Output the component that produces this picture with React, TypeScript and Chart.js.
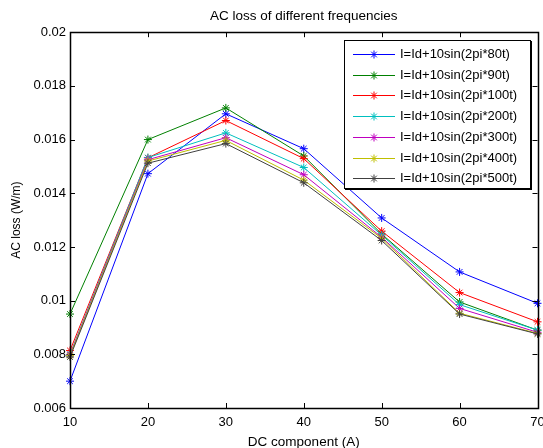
import React, { useEffect, useRef } from "react";
import { Chart, registerables } from "chart.js";

Chart.register(...registerables);

const dcCurrent = [10, 20, 30, 40, 50, 60, 70];
const seriesLabels = [
  "I=Id+10sin(2pi*80t)",
  "I=Id+10sin(2pi*90t)",
  "I=Id+10sin(2pi*100t)",
  "I=Id+10sin(2pi*200t)",
  "I=Id+10sin(2pi*300t)",
  "I=Id+10sin(2pi*400t)",
  "I=Id+10sin(2pi*500t)",
];
const loss80 = [0.0070, 0.01473, 0.01696, 0.01566, 0.01308, 0.01107, 0.0099];
const loss90 = [0.0095, 0.0160, 0.01718, 0.01539, 0.01248, 0.00995, 0.0089];
const loss100 = [0.00814, 0.01532, 0.01671, 0.01529, 0.01259, 0.0103, 0.00921];
const loss200 = [0.0080, 0.01533, 0.01625, 0.01496, 0.01244, 0.00985, 0.0089];
const loss300 = [0.00798, 0.01525, 0.01607, 0.01469, 0.01236, 0.00971, 0.00882];
const loss400 = [0.00795, 0.0152, 0.01597, 0.01449, 0.01232, 0.00953, 0.00878];
const loss500 = [0.0079, 0.01512, 0.01585, 0.01439, 0.01224, 0.0095, 0.00876];
const seriesColors = ["#0000FF", "#008000", "#FF0000", "#00BFBF", "#BF00BF", "#BFBF00", "#404040"];

const FONT = "'Liberation Sans', Arial, sans-serif";

const framePlugin = {
  id: "matlabFrame",
  afterDraw(chart: any) {
    const { ctx, chartArea } = chart;
    const { left, right, top, bottom } = chartArea;
    const xs = chart.scales.x;
    const ys = chart.scales.y;
    ctx.save();
    ctx.strokeStyle = "#000";
    ctx.lineWidth = 1;
    const tl = 5;
    ctx.beginPath();
    xs.ticks.forEach((t: any) => {
      const px = Math.round(xs.getPixelForValue(t.value)) + 0.5;
      ctx.moveTo(px, bottom);
      ctx.lineTo(px, bottom - tl);
      ctx.moveTo(px, top);
      ctx.lineTo(px, top + tl);
    });
    ys.ticks.forEach((t: any) => {
      const py = Math.round(ys.getPixelForValue(t.value)) + 0.5;
      ctx.moveTo(left, py);
      ctx.lineTo(left + tl, py);
      ctx.moveTo(right, py);
      ctx.lineTo(right - tl, py);
    });
    ctx.stroke();
    ctx.lineWidth = 1.5;
    ctx.strokeRect(Math.round(left) + 0.5, Math.round(top) + 0.5, Math.round(right - left), Math.round(bottom - top));

    // legend
    const bx = 344, by = 40, bw = 186, bh = 148;
    ctx.fillStyle = "#fff";
    ctx.fillRect(bx, by, bw, bh);
    ctx.lineWidth = 1;
    ctx.strokeStyle = "#000";
    ctx.strokeRect(bx + 0.5, by + 0.5, bw, bh);
    ctx.lineWidth = 2;
    ctx.beginPath();
    ctx.moveTo(bx + bw + 1, by + 1);
    ctx.lineTo(bx + bw + 1, by + bh + 1);
    ctx.lineTo(bx + 1, by + bh + 1);
    ctx.stroke();
    ctx.font = "13px " + FONT;
    ctx.textBaseline = "middle";
    ctx.textAlign = "left";
    chart.data.datasets.forEach((ds: any, i: number) => {
      const y = Math.round(54 + i * 20.7) + 0.5;
      ctx.strokeStyle = ds.borderColor;
      ctx.lineWidth = 1;
      ctx.beginPath();
      ctx.moveTo(353, y);
      ctx.lineTo(395, y);
      const cx = 374, r = 4;
      ctx.moveTo(cx - r, y);
      ctx.lineTo(cx + r, y);
      ctx.moveTo(cx, y - r);
      ctx.lineTo(cx, y + r);
      const d = r * 0.707;
      ctx.moveTo(cx - d, y - d);
      ctx.lineTo(cx + d, y + d);
      ctx.moveTo(cx - d, y + d);
      ctx.lineTo(cx + d, y - d);
      ctx.stroke();
      ctx.fillStyle = "#000";
      ctx.fillText(ds.label, 400, y);
    });
    ctx.restore();
  },
};

export default function App() {
  const ref = useRef<HTMLCanvasElement>(null);
  useEffect(() => {
    if (!ref.current) return;
    Chart.defaults.font.family = FONT;
    const allSeries = [loss80, loss90, loss100, loss200, loss300, loss400, loss500];
    const chart = new Chart(ref.current, {
      type: "line",
      data: {
        datasets: allSeries.map((s, i) => ({
          label: seriesLabels[i],
          data: dcCurrent.map((x, j) => ({ x, y: s[j] })),
          borderColor: seriesColors[i],
          backgroundColor: seriesColors[i],
          borderWidth: 1,
          pointStyle: "star",
          pointRadius: 4,
          pointBorderWidth: 1,
          pointBorderColor: seriesColors[i],
          fill: false,
          tension: 0,
          clip: false as any,
          order: 6 - i,
        })),
      },
      options: {
        animation: false,
        responsive: false,
        layout: { padding: { left: 0, right: 5, top: 0, bottom: 0 } },
        plugins: {
          legend: { display: false },
          tooltip: { enabled: false },
          title: {
            display: true,
            fullSize: false,
            text: "AC loss of different frequencies",
            color: "#000",
            font: { size: 13.5, weight: "normal" },
            padding: { top: 8, bottom: 8 },
          },
        },
        scales: {
          x: {
            type: "linear",
            min: 10,
            max: 70,
            grid: { display: false, drawTicks: false },
            border: { display: false },
            ticks: {
              stepSize: 10,
              color: "#000",
              font: { size: 13 },
              padding: 7,
              maxRotation: 0,
            },
            title: {
              display: true,
              text: "DC component (A)",
              color: "#000",
              font: { size: 13.5 },
              padding: { top: 0, bottom: -2 },
            },
            afterFit(scale: any) {
              scale.height = 40;
              scale.paddingRight = 5.5;
              scale.paddingLeft = 0;
            },
          },
          y: {
            min: 0.006,
            max: 0.02,
            grid: { display: false, drawTicks: false },
            border: { display: false },
            ticks: {
              stepSize: 0.002,
              color: "#000",
              font: { size: 13 },
              padding: 4,
              callback: (v: any) => String(Number(Number(v).toFixed(4))),
            },
            title: {
              display: true,
              text: "AC loss (W/m)",
              color: "#000",
              font: { size: 12 },
              padding: { top: 9, bottom: 0 },
            },
            afterFit(scale: any) {
              scale.width = 70;
            },
          },
        },
      },
      plugins: [framePlugin],
    });
    return () => chart.destroy();
  }, []);
  return (
    <div style={{ position: "fixed", left: 0, top: 0, width: 543, height: 448, background: "#fff" }}>
      <canvas ref={ref} width={543} height={448} style={{ display: "block" }} />
    </div>
  );
}
